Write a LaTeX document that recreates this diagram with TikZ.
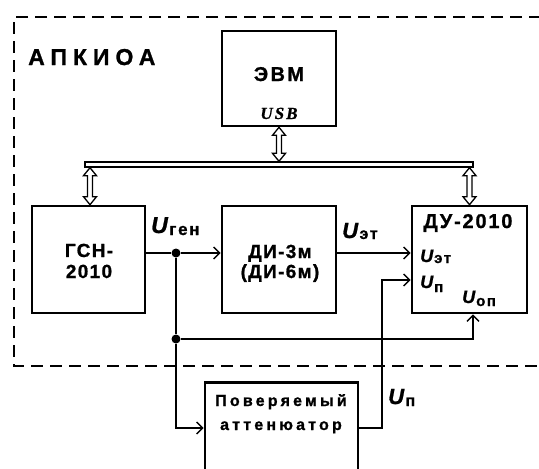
\documentclass[tikz,border=0pt]{standalone}
\usepackage{fontspec}
\setmainfont{Liberation Sans}
\newfontfamily\serifB{Liberation Serif}
\usetikzlibrary{arrows.meta,calc}
\newcommand\fsz[1]{\fontsize{#1}{#1}\selectfont}
\newcommand\sps[1]{\addfontfeatures{LetterSpace=#1,FakeBold=1}}
% #1 U size, #2 sub size, #3 sub text, #4 lowering, #5 kern
\newcommand\Ulab[5]{{\fsz{#1}\bfseries\itshape\addfontfeatures{FakeBold=1}U}\kern#5pt\raisebox{-#4pt}{\fsz{#2}\bfseries\sps{10}#3}}
\newcommand\hollowarrow[2]{\draw[line width=1.3pt,fill=white,line join=miter] let \p1=#1,\p2=#2 in
  (\x1,\y1) -- ++(6.5pt,-8pt) -- ++(-4pt,0pt) -- (\x1+2.5pt,\y2+8pt) -- ++(4pt,0pt) -- (\x1,\y2)
  -- ++(-6.5pt,8pt) -- ++(4pt,0pt) -- (\x1-2.5pt,\y1-8pt) -- ++(-4pt,0pt) -- cycle;}
\begin{document}
\begin{tikzpicture}[x=1pt,y=-1pt,
  box/.style={draw,line width=2.6pt,inner sep=0pt},
  conn/.style={line width=1.4pt},
  arr/.style={conn,-{Straight Barb[length=6pt,width=12pt,line width=1.4pt]}},
  dot/.style={circle,fill,inner sep=0pt,minimum size=9pt},
  lbl/.style={inner sep=0pt},
  border/.style={line width=2.4pt,dash pattern=on 12pt off 7pt}]
\useasboundingbox (0,0) rectangle (539,469);
\clip (0,0) rectangle (539,469);
\fill[white] (0,0) rectangle (539,469);
% dashed frame
\draw[border] (560,17) -- (14,17) -- (14,366) -- (560,366);
% boxes
\node[box,minimum width=114pt,minimum height=95pt] (evm) at (279,78.5) {};
\node[box,minimum width=113pt,minimum height=107pt] (gsn) at (88.5,259.5) {};
\node[box,minimum width=114pt,minimum height=107pt] (di) at (279,259.5) {};
\node[box,minimum width=115pt,minimum height=107pt] (du) at (469.5,259.5) {};
\node[box,minimum width=153pt,minimum height=130pt,anchor=north] (att) at (281.5,381) {};
% bus
\node[draw,line width=1.4pt,fill=white,minimum width=388pt,minimum height=5pt,inner sep=0pt] (bus) at (279,164.5) {};
\hollowarrow{(evm.south)}{(bus.north -| evm.south)}
\hollowarrow{($(bus.south -| gsn.north)+(1.5,0)$)}{($(gsn.north)+(1.5,0)$)}
\hollowarrow{(bus.south -| du.north)}{(du.north)}
% connectors
\node[dot] (j1) at (176,253) {};
\node[dot] (j2) at (176,339) {};
\coordinate (k) at (382,280);
\draw[conn] (gsn.east |- j1) -- (j1);
\draw[arr] (j1) -- (di.west |- j1);
\draw[conn] (j1) -- (j2);
\draw[arr] (j2) |- ($(att.north west)+(0,47)$);
\draw[arr] (j2) -| ($(du.south)+(3.5,0)$);
\draw[arr] (di.east |- j1) -- (du.west |- j1);
\draw[arr] ($(att.north east)+(0,47)$) -| (k) -- (du.west |- k);
% texts
\node[lbl,anchor=base west] (tapk) at (28,65) {\fsz{23}\bfseries\sps{26}АПКИОА};
\node[lbl,anchor=base] (tevm) at (279,81) {\fsz{20}\bfseries\sps{12}ЭВМ};
\node[lbl,anchor=base] (tusb) at (279,119) {\serifB\fsz{17}\bfseries\itshape\sps{12}USB};
\node[lbl,anchor=base] (tgsn1) at (89,257) {\fsz{19}\bfseries\sps{7}ГСН-};
\node[lbl,anchor=base] (tgsn2) at (89,278) {\fsz{19}\bfseries\sps{7}2010};
\node[lbl,anchor=base] (tdi1) at (280,258) {\fsz{19}\bfseries\sps{7}ДИ-3м};
\node[lbl,anchor=base] (tdi2) at (280,278) {\fsz{19}\bfseries\sps{7}(ДИ-6м)};
\node[lbl,anchor=base] (tdu) at (468,228) {\fsz{20}\bfseries\sps{9}ДУ-2010};
\node[lbl,anchor=base west] (uet1) at (420,262) {\Ulab{18}{15}{эт}{1}{1}};
\node[lbl,anchor=base west] (up1) at (420,288) {\Ulab{18}{15}{п}{4}{1}};
\node[lbl,anchor=base west] (uop) at (462,303) {\Ulab{18}{15}{оп}{3}{1}};
\node[lbl,anchor=base west] (ugen) at (151,233) {\Ulab{23}{17}{ген}{2}{1.5}};
\node[lbl,anchor=base west] (uet2) at (342,238) {\Ulab{22}{16}{эт}{1}{1.5}};
\node[lbl,anchor=base west] (up2) at (388,404) {\Ulab{22}{16}{п}{2}{1.5}};
\node[lbl,anchor=base] (tatt1) at (281,406) {\fsz{16}\bfseries\sps{20}Поверяемый};
\node[lbl,anchor=base] (tatt2) at (281,430) {\fsz{16}\bfseries\sps{20}аттенюатор};
\end{tikzpicture}
\end{document}
